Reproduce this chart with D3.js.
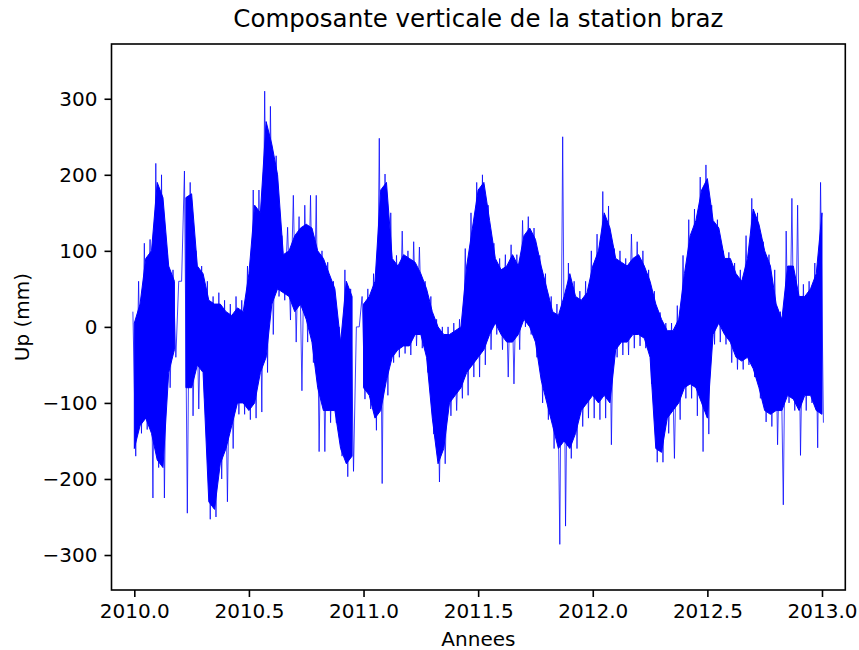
<!DOCTYPE html>
<html>
<head>
<meta charset="utf-8">
<script src="https://cdn.jsdelivr.net/npm/d3@7"></script>
<style>
  body { margin: 0; background: #fff; }
  text { font-family: "DejaVu Sans", sans-serif; }
</style>
</head>
<body>
<svg id="chart" width="859" height="650"></svg>
<script>
// bins of 0.025 yr starting at 2010.0 ; null = no data (gap)
const binStart = 2010.0;
const binStep = 0.025;

// dense core of the signal (upper / lower edge, mm)
const coreHi = [5, 30, 90, 100, 190, 170, 80, 60, null, 170,
  175, 80, 70, 35, 30, 30, 20, 15, 25, 20,
  70, 160, 150, 270, 240, 200, 95, 100, 120, 130,
  135, 130, 100, 90, 70, 50, -20, 60, 40, null,
  30, 40, 60, 180, 190, 90, 80, 95, 90, 85,
  70, 50, 20, 0, -10, -10, -5, 0, 80, 130,
  180, 190, 140, 90, 75, 80, 95, 80, 120, 130,
  115, 80, 50, 20, 15, 40, 70, 40, 35, 45,
  80, 100, 150, 130, 90, 85, 80, 90, 95, 80,
  60, 30, 10, -5, -5, 10, 70, 120, 140, 180,
  195, 140, 130, 90, 90, 70, 60, 90, 155, 135,
  100, 80, 30, 10, 80, 80, 40, 40, 50, 70, 150];
const coreLo = [-160, -130, -120, -140, -175, -185, -60, -30, null, -80,
  -80, -50, -60, -230, -240, -180, -160, -130, -100, -100,
  -110, -100, -60, -40, 30, 50, 45, 40, 20, 30,
  10, -20, -80, -110, -110, -110, -160, -180, -170, null,
  -80, -90, -120, -110, -70, -40, -30, -25, -25, -10,
  -10, -40, -120, -180, -160, -100, -90, -80, -60, -50,
  -40, -30, -10, 5, -10, -20, -20, -10, 10, 0,
  -20, -70, -100, -130, -160, -150, -160, -140, -110, -100,
  -90, -100, -90, -100, -30, -20, -20, -10, -10, -15,
  -40, -160, -165, -120, -110, -100, -80, -75, -80, -100,
  -120, -10, 5, -10, -20, -40, -45, -40, -55, -80,
  -110, -115, -110, -110, -90, -95, -110, -90, -90, -110, -115];

// extreme values reached in each bin (thin spikes)
const peakHi = [20, 60, 110, 115, 215, 200, 95, 75, 60, 205,
  190, 100, 80, 60, 40, 45, 35, 30, 40, 35,
  80, 180, 180, 310, 290, 225, 120, 131, 173, 145,
  160, 173, 173, 100, 85, 60, 0, 75, 50, 0,
  40, 50, 70, 248, 201, 150, 94, 126, 100, 112,
  105, 60, 40, 10, 0, 0, 5, 10, 103, 150,
  190, 200, 160, 110, 90, 95, 108, 95, 140, 145,
  130, 94, 70, 40, 30, 250, 84, 60, 47, 60,
  100, 122, 178, 159, 103, 100, 90, 122, 112, 100,
  75, 47, 19, 5, 5, 28, 94, 141, 155, 197,
  213, 160, 141, 100, 98, 84, 75, 120, 169, 150,
  112, 95, 75, 20, 126, 169, 160, 56, 60, 84, 190];
const peakLo = [-170, -140, -135, -225, -185, -225, -80, -40, 60, -245,
  -117, -108, -94, -253, -250, -200, -230, -160, -115, -115,
  -122, -120, -112, -60, -10, 40, 35, 9, -20, -84,
  -20, -47, -164, -164, -126, -126, -170, -197, -190, 0,
  -95, -108, -136, -206, -90, -47, -40, -35, -37, -25,
  -28, -60, -141, -204, -180, -117, -110, -94, -90, -66,
  -66, -50, -30, -10, -30, -66, -75, -30, 0, -10,
  -40, -100, -122, -160, -286, -262, -173, -160, -131, -120,
  -120, -122, -120, -155, -40, -37, -37, -28, -25, -28,
  -75, -178, -178, -140, -173, -122, -94, -94, -117, -164,
  -141, -23, -20, -23, -47, -56, -56, -50, -66, -94,
  -125, -131, -155, -234, -100, -110, -169, -110, -100, -159, -126];

const xTicks = [2010.0, 2010.5, 2011.0, 2011.5, 2012.0, 2012.5, 2013.0];
const yTicks = [-300, -200, -100, 0, 100, 200, 300];

const svg = d3.select("#chart");
const plotL = 111.5, plotR = 845.3, plotT = 44, plotB = 590;

const x = d3.scaleLinear().domain([2009.9005, 2013.1017]).range([plotL, plotR]);
const y = d3.scaleLinear().domain([-346, 372]).range([plotB, plotT]);

const bins = coreHi.map((h, i) => ({
  t: binStart + i * binStep,
  hi: h, lo: coreLo[i], pHi: peakHi[i], pLo: peakLo[i]
}));

svg.append("rect").attr("width", 859).attr("height", 650).attr("fill", "#fff");

svg.append("clipPath").attr("id", "plot")
  .append("rect")
  .attr("x", plotL).attr("y", plotT)
  .attr("width", plotR - plotL).attr("height", plotB - plotT);

const g = svg.append("g").attr("clip-path", "url(#plot)");

// thin spikes: go up to the bin max then down to the bin min
const spikePts = bins.flatMap(d => [[d.t - binStep / 4, d.pHi], [d.t + binStep / 4, d.pLo]]);
g.append("path")
  .datum(spikePts)
  .attr("fill", "none")
  .attr("stroke", "#0000ff")
  .attr("stroke-width", 1)
  .attr("stroke-opacity", 0.75)
  .attr("d", d3.line().x(d => x(d[0])).y(d => y(d[1])));

// dense part
g.append("path")
  .datum(bins)
  .attr("fill", "#0000ff")
  .attr("stroke", "#0000ff")
  .attr("stroke-width", 1)
  .attr("d", d3.area()
    .defined(d => d.hi !== null)
    .x(d => x(d.t))
    .y0(d => y(d.lo))
    .y1(d => y(d.hi)));

// axes
const fmtY = d => d < 0 ? "\u2212" + Math.abs(d) : String(d);

const xAxis = svg.append("g")
  .attr("transform", `translate(0,${plotB})`)
  .call(d3.axisBottom(x).tickValues(xTicks).tickFormat(d3.format(".1f")).tickSize(7).tickPadding(7));

const yAxis = svg.append("g")
  .attr("transform", `translate(${plotL},0)`)
  .call(d3.axisLeft(y).tickValues(yTicks).tickFormat(fmtY).tickSize(7).tickPadding(7));

[xAxis, yAxis].forEach(ax => {
  ax.select(".domain").remove();
  ax.selectAll(".tick line").attr("stroke", "#000").attr("stroke-width", 1.6);
  ax.selectAll(".tick text").attr("fill", "#000").style("font-size", "20px");
});

// frame
svg.append("rect")
  .attr("x", plotL).attr("y", plotT)
  .attr("width", plotR - plotL).attr("height", plotB - plotT)
  .attr("fill", "none")
  .attr("stroke", "#000")
  .attr("stroke-width", 1.6);

svg.append("text")
  .attr("x", (plotL + plotR) / 2).attr("y", 27)
  .attr("text-anchor", "middle")
  .style("font-size", "24.5px")
  .text("Composante verticale de la station braz");

svg.append("text")
  .attr("x", (plotL + plotR) / 2).attr("y", 646)
  .attr("text-anchor", "middle")
  .style("font-size", "20px")
  .text("Annees");

svg.append("text")
  .attr("transform", `translate(29,${(plotT + plotB) / 2}) rotate(-90)`)
  .attr("text-anchor", "middle")
  .style("font-size", "20px")
  .text("Up (mm)");
</script>
</body>
</html>
